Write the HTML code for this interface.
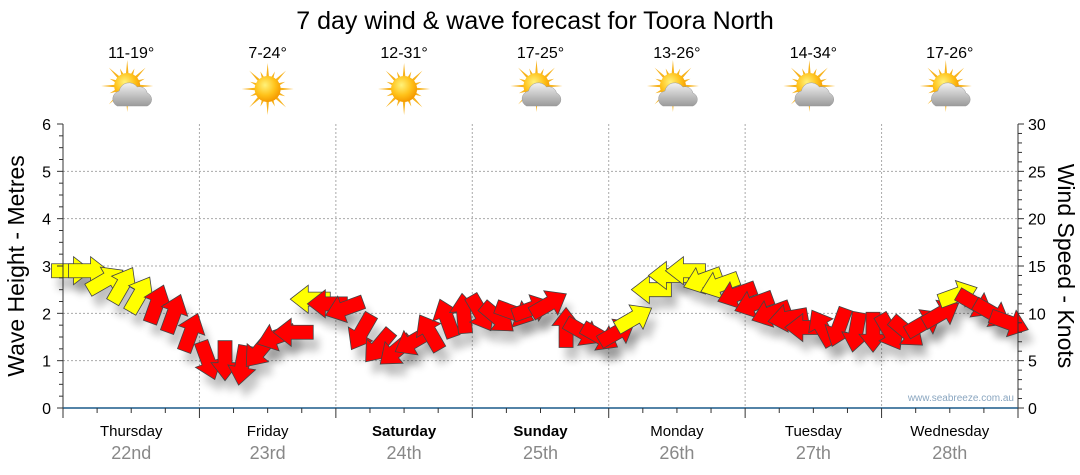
<!DOCTYPE html>
<html><head><meta charset="utf-8"><style>
body{margin:0;background:#fff;}
svg{display:block;font-family:"Liberation Sans",sans-serif;}
</style></head><body>
<svg id="chart" width="1080" height="475" viewBox="0 0 1080 475">
<defs>
<filter id="sh" x="-50%" y="-50%" width="200%" height="200%"><feGaussianBlur stdDeviation="4"/></filter>
<radialGradient id="sun" cx="40%" cy="35%" r="65%"><stop offset="0" stop-color="#fff27a"/><stop offset="0.6" stop-color="#ffc21a"/><stop offset="1" stop-color="#f59a00"/></radialGradient>
<linearGradient id="cloud" x1="0" y1="0" x2="0" y2="1"><stop offset="0" stop-color="#f2f2f2"/><stop offset="1" stop-color="#9a9a9a"/></linearGradient>
</defs>
<text x="535" y="29" text-anchor="middle" font-size="25" fill="#000">7 day wind &amp; wave forecast for Toora North</text>
<g id="grid"></g>
<g id="icons"></g>
<g id="shadows"></g>
<g id="arrows"></g>
<g id="axes"></g>
<text transform="translate(24,266) rotate(-90)" text-anchor="middle" font-size="23" fill="#000">Wave Height - Metres</text>
<text transform="translate(1058,266) rotate(90)" text-anchor="middle" font-size="23" fill="#000">Wind Speed - Knots</text>
<text x="1014" y="401" text-anchor="end" font-size="10" fill="#8aa6c0">www.seabreeze.com.au</text>
</svg>
<script>
const days=["Thursday","Friday","Saturday","Sunday","Monday","Tuesday","Wednesday"];
const dates=["22nd","23rd","24th","25th","26th","27th","28th"];
const temps=["11-19°","7-24°","12-31°","17-25°","13-26°","14-34°","17-26°"];
const iconTypes=["cloud","sun","sun","cloud","cloud","cloud","cloud"];
const boldDays=[false,false,true,true,false,false,false];
const leftTicks=[0,1,2,3,4,5,6];
const rightTicks=[0,5,10,15,20,25,30];
// wind speed (knots) every 3 hours
const windSpeed=[14.5,14.5,13.5,13,12,11,10,8, 5,5,4.5,6,7.5,8,11.5,11, 10.5,8,6.5,6,7,8,9.5,10, 10,9.5,10,10.5,11,8.5,8,7.5, 8,9.5,12.5,14,14.5,13.5,13,12, 11,10,9.5,8.5,8.5,8.5,8,8, 8,8,9,10,12,11,10,9];
// screen heading of arrow (deg, 0 = right, -90 = up)
const windDir=[0,0,-30,-60,-60,-70,-70,-70, 70,90,100,130,160,180,180,180, 160,120,130,140,150,-120,-110,-95, 60,40,20,-20,-30,-90,30,30, -30,-30,180,180,180,160,160,160, 160,160,170,180,-120,110,100,90, 60,40,-30,-30,-20,30,30,20];
const windColor=["y","y","y","y","y","r","r","r", "r","r","r","r","r","r","y","r", "r","r","r","r","r","r","r","r", "r","r","r","r","r","r","r","r", "r","y","y","y","y","y","y","r", "r","r","r","r","r","r","r","r", "r","r","r","r","y","r","r","r"];

const X0=63,X1=1018,Y0=408,YT=124;
const dayW=(X1-X0)/7;
const yM=m=>Y0-(m/6)*(Y0-YT);
const yK=k=>Y0-(k/30)*(Y0-YT);
const xH=h=>X0+(h/24)*dayW;
const NS="http://www.w3.org/2000/svg";
function mk(t,a,p){const e=document.createElementNS(NS,t);for(const k in a)e.setAttribute(k,a[k]);(p||document.getElementById('chart')).appendChild(e);return e;}
const grid=document.getElementById('grid'),axes=document.getElementById('axes');
leftTicks.forEach(v=>{if(v>0&&v<6){const l=mk('line',{x1:X0,x2:X1,y1:yM(v),y2:yM(v),stroke:'#aaa','stroke-dasharray':'2,2'},grid);}});
for(let d=1;d<7;d++){const l=mk('line',{x1:X0+d*dayW,x2:X0+d*dayW,y1:YT,y2:Y0,stroke:'#aaa','stroke-dasharray':'2,2'},grid);}
let a=mk('line',{x1:X0,x2:X0,y1:YT,y2:Y0+10,stroke:'#333'},axes);
a=mk('line',{x1:X1,x2:X1,y1:YT,y2:Y0,stroke:'#333'},axes);
a=mk('line',{x1:X0,x2:X1,y1:Y0,y2:Y0,stroke:'#1a5a8a','stroke-width':1.5},axes);
for(let i=0;i<=24;i++){const y=yM(i*0.25);const L=i%4==0?6:4;mk('line',{x1:X0-L,x2:X0,y1:y,y2:y,stroke:'#333'},axes);}
for(let i=0;i<=30;i++){const y=yK(i);const L=i%5==0?6:4;mk('line',{x1:X1,x2:X1+L,y1:y,y2:y,stroke:'#333'},axes);}
leftTicks.forEach(v=>{const t=mk('text',{x:X0-12,y:yM(v)+6,'text-anchor':'end','font-size':16,fill:'#000'},axes);t.textContent=v;});
rightTicks.forEach(v=>{const t=mk('text',{x:X1+10,y:yK(v)+6,'font-size':16,fill:'#000'},axes);t.textContent=v;});
for(let h=0;h<=168;h+=6){const x=xH(h);mk('line',{x1:x,x2:x,y1:Y0,y2:Y0+(h%24==0?10:5),stroke:'#333'},axes);}
days.forEach((d,i)=>{const cx=X0+(i+0.5)*dayW;
 let t=mk('text',{x:cx,y:436,'text-anchor':'middle','font-size':15,fill:'#000','font-weight':boldDays[i]?'bold':'normal'},axes);t.textContent=d;
 t=mk('text',{x:cx,y:459,'text-anchor':'middle','font-size':18,fill:'#888'},axes);t.textContent=dates[i];
 t=mk('text',{x:cx,y:58,'text-anchor':'middle','font-size':16,fill:'#000'});t.textContent=temps[i];
 const g=mk('g',{},document.getElementById('icons'));
 const sx=iconTypes[i]=='sun'?cx:cx-4,sy=iconTypes[i]=='sun'?89:86;
 for(let r=0;r<16;r++){const an=r*Math.PI/8,L=r%2?19:26,w=0.13;
  mk('polygon',{points:`${sx+Math.cos(an-w)*11},${sy+Math.sin(an-w)*11} ${sx+Math.cos(an)*L},${sy+Math.sin(an)*L} ${sx+Math.cos(an+w)*11},${sy+Math.sin(an+w)*11}`,fill:'#f7b21c'},g);}
 mk('circle',{cx:sx,cy:sy,r:13,fill:'url(#sun)'},g);
 if(iconTypes[i]=='cloud'){mk('path',{d:`M${cx-14},${sy+20} a8,8 0 0 1 2,-15 a10,10 0 0 1 18,-4 a8,8 0 0 1 10,6 a7,7 0 0 1 0,13 z`,fill:'url(#cloud)',stroke:'#999','stroke-width':0.5},g);}
});
const sh=document.getElementById('shadows'),ar=document.getElementById('arrows');
const shape="M-20,-7 L2,-7 L2,-14 L20,0 L2,14 L2,7 L-20,7 Z";
windSpeed.forEach((k,i)=>{const x=xH(i*3+1.5),y=yK(k);
 const s=mk('path',{d:shape,fill:'#000',opacity:0.22,filter:'url(#sh)',transform:`translate(${x+6},${y+12}) rotate(${windDir[i]})`},sh);
 
 const p=mk('path',{d:shape,fill:windColor[i]=='y'?'#ffff00':'#ff0000',stroke:'#444','stroke-width':0.8,transform:`translate(${x},${y}) rotate(${windDir[i]})`},ar);
 
});
</script>
</body></html>
